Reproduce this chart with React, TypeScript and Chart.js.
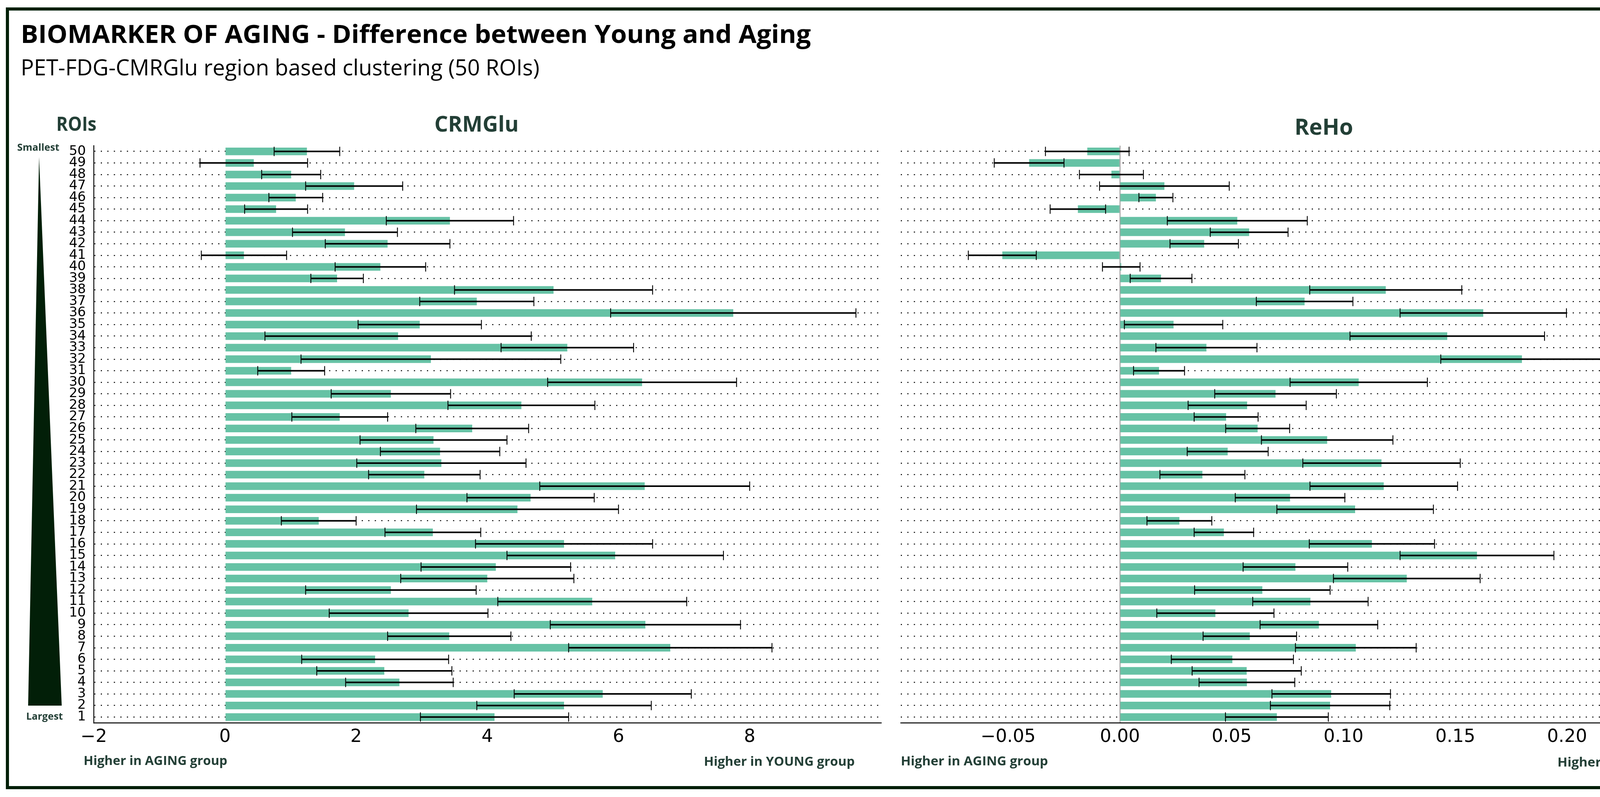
import React, { useEffect, useRef } from 'react';
import { Chart, registerables } from 'chart.js';

Chart.register(...registerables);

// ROI labels, top (smallest) to bottom (largest)
const roiLabels = [
  '50', '49', '48', '47', '46', '45', '44', '43', '42', '41',
  '40', '39', '38', '37', '36', '35', '34', '33', '32', '31',
  '30', '29', '28', '27', '26', '25', '24', '23', '22', '21',
  '20', '19', '18', '17', '16', '15', '14', '13', '12', '11',
  '10', '9', '8', '7', '6', '5', '4', '3', '2', '1',
];

// CRMGlu difference (Young - Aging), same order as roiLabels
const crmgluValues = [
  1.25, 0.44, 1.01, 1.97, 1.08, 0.78, 3.43, 1.83, 2.48, 0.29,
  2.37, 1.71, 5.01, 3.84, 7.75, 2.97, 2.64, 5.22, 3.14, 1.01,
  6.36, 2.53, 4.52, 1.75, 3.77, 3.18, 3.28, 3.30, 3.04, 6.40,
  4.66, 4.46, 1.43, 3.17, 5.17, 5.95, 4.13, 4.00, 2.53, 5.60,
  2.80, 6.41, 3.42, 6.79, 2.29, 2.43, 2.66, 5.76, 5.17, 4.11,
];
const crmgluErrors = [
  0.50, 0.82, 0.45, 0.74, 0.41, 0.48, 0.97, 0.80, 0.95, 0.65,
  0.69, 0.40, 1.51, 0.87, 1.87, 0.94, 2.03, 1.01, 1.98, 0.51,
  1.44, 0.91, 1.12, 0.73, 0.86, 1.12, 0.91, 1.29, 0.85, 1.60,
  0.97, 1.54, 0.57, 0.73, 1.35, 1.65, 1.14, 1.32, 1.30, 1.44,
  1.21, 1.45, 0.94, 1.55, 1.12, 1.03, 0.82, 1.35, 1.33, 1.13,
];

// ReHo difference (Young - Aging), same order as roiLabels
const rehoValues = [
  -0.0146, -0.0406, -0.0038, 0.0199, 0.0161, -0.0188, 0.0525, 0.0578, 0.0377, -0.0526,
  0.0006, 0.0184, 0.1189, 0.0826, 0.1625, 0.0240, 0.1464, 0.0387, 0.1798, 0.0175,
  0.1068, 0.0696, 0.0569, 0.0475, 0.0616, 0.0927, 0.0482, 0.1170, 0.0369, 0.1180,
  0.0761, 0.1052, 0.0266, 0.0465, 0.1127, 0.1597, 0.0785, 0.1283, 0.0637, 0.0852,
  0.0427, 0.0890, 0.0581, 0.1055, 0.0503, 0.0567, 0.0568, 0.0945, 0.0940, 0.0702,
];
const rehoErrors = [
  0.0187, 0.0156, 0.0143, 0.0290, 0.0076, 0.0124, 0.0313, 0.0174, 0.0153, 0.0152,
  0.0084, 0.0138, 0.0340, 0.0216, 0.0372, 0.0220, 0.0435, 0.0226, 0.0363, 0.0114,
  0.0307, 0.0272, 0.0264, 0.0143, 0.0143, 0.0294, 0.0181, 0.0352, 0.0190, 0.0330,
  0.0245, 0.0350, 0.0145, 0.0133, 0.0280, 0.0344, 0.0234, 0.0328, 0.0303, 0.0258,
  0.0262, 0.0263, 0.0209, 0.0270, 0.0273, 0.0244, 0.0214, 0.0265, 0.0267, 0.0230,
];

const crmgluTicks = [-2, 0, 2, 4, 6, 8];
const rehoTicks = [-0.05, 0, 0.05, 0.1, 0.15, 0.2, 0.25];

const BAR_COLOR = '#66c2a5';
const DARK = '#021f08';
const LABEL_COLOR = '#233f36';

const errorBarPlugin = {
  id: 'errorBars',
  afterDatasetsDraw(chart: any) {
    const ds = chart.data.datasets[0];
    const errs: number[] = ds.errors;
    const meta = chart.getDatasetMeta(0);
    const xs = chart.scales.x;
    const ctx = chart.ctx;
    ctx.save();
    ctx.strokeStyle = '#000';
    meta.data.forEach((el: any, i: number) => {
      const v = ds.data[i];
      const e = errs[i];
      const x1 = xs.getPixelForValue(v - e);
      const x2 = xs.getPixelForValue(v + e);
      const y = el.y;
      ctx.lineWidth = 4;
      ctx.beginPath();
      ctx.moveTo(x1, y);
      ctx.lineTo(x2, y);
      ctx.stroke();
      ctx.lineWidth = 2.2;
      ctx.beginPath();
      ctx.moveTo(x1, y - 12);
      ctx.lineTo(x1, y + 12);
      ctx.moveTo(x2, y - 12);
      ctx.lineTo(x2, y + 12);
      ctx.stroke();
    });
    ctx.restore();
  },
};

type PanelOpts = {
  values: number[];
  errors: number[];
  min: number;
  max: number;
  ticks: number[];
  fmt: (v: number) => string;
  yWidth: number;
  padRight: number;
  showY: boolean;
  zeroLine: boolean;
};

function buildConfig(o: PanelOpts): any {
  return {
    type: 'bar',
    data: {
      labels: roiLabels,
      datasets: [
        {
          data: o.values,
          errors: o.errors,
          backgroundColor: BAR_COLOR,
          borderWidth: 0,
          barPercentage: 0.66,
          categoryPercentage: 1.0,
        },
      ],
    },
    options: {
      indexAxis: 'y',
      animation: false,
      responsive: true,
      maintainAspectRatio: false,
      events: [],
      layout: { padding: { top: 13, right: o.padRight, bottom: 0, left: 0 } },
      plugins: { legend: { display: false }, tooltip: { enabled: false }, title: { display: false } },
      scales: {
        x: {
          type: 'linear',
          min: o.min,
          max: o.max,
          z: 1,
          afterBuildTicks: (axis: any) => {
            axis.ticks = o.ticks.map((v) => ({ value: v }));
          },
          afterFit: (scale: any) => {
            scale.height = 89;
            scale.paddingLeft = 0;
            scale.paddingRight = 0;
          },
          ticks: {
            callback: (v: any) => o.fmt(Number(v)),
            font: { family: 'DejaVu Sans', size: 46 },
            color: '#000',
            padding: 9,
            maxRotation: 0,
            minRotation: 0,
            autoSkip: false,
          },
          grid: {
            display: true,
            drawTicks: false,
            drawOnChartArea: true,
            lineWidth: (ctx: any) => (o.zeroLine && ctx.tick && Math.abs(ctx.tick.value) < 1e-9 ? 2.5 : 3),
            color: (ctx: any) => {
              const v = ctx.tick ? ctx.tick.value : NaN;
              if (Math.abs(v - o.min) < 1e-9) return 'rgba(0,0,0,0)';
              if (o.zeroLine && Math.abs(v) < 1e-9) return '#a0a0a0';
              return '#ffffff';
            },
          },
          border: { display: true, color: '#000', width: 2.6 },
        },
        y: {
          type: 'category',
          z: 1,
          afterFit: (scale: any) => {
            scale.width = o.yWidth;
            scale.paddingTop = 0;
            scale.paddingBottom = 0;
          },
          ticks: {
            display: o.showY,
            autoSkip: false,
            font: { family: 'DejaVu Sans', size: 34 },
            color: '#000',
            padding: 20,
          },
          grid: {
            display: true,
            offset: false,
            drawTicks: false,
            color: '#000',
            lineWidth: 2.6,
          },
          border: { display: o.showY, color: '#000', width: 2.3, dash: [3, 13.7] },
        },
      },
    },
    plugins: [errorBarPlugin],
  };
}

function Panel(props: { left: number; top: number; width: number; height: number; opts: PanelOpts }) {
  const ref = useRef<HTMLCanvasElement | null>(null);
  useEffect(() => {
    if (!ref.current) return;
    const chart = new Chart(ref.current, buildConfig(props.opts));
    return () => chart.destroy();
  }, []);
  return (
    <div
      style={{
        position: 'absolute',
        left: props.left,
        top: props.top,
        width: props.width,
        height: props.height,
      }}
    >
      <canvas ref={ref} />
    </div>
  );
}

function T(p: {
  x: number;
  y: number;
  size: number;
  len: number;
  bold?: boolean;
  fill?: string;
  children: string;
}) {
  return (
    <text
      x={p.x}
      y={p.y}
      fontSize={p.size}
      fontFamily="'Open Sans', 'Noto Sans', sans-serif"
      fontWeight={p.bold ? 700 : 400}
      fill={p.fill || '#000'}
      textLength={p.len}
      lengthAdjust="spacingAndGlyphs"
    >
      {p.children}
    </text>
  );
}

const fmtLeft = (v: number) => (v < 0 ? '\u2212' + Math.abs(v) : String(v));
const fmtRight = (v: number) => {
  if (Math.abs(v) < 1e-9) return '0.00';
  return (v < 0 ? '\u2212' : '') + Math.abs(v).toFixed(2);
};

export default function App() {
  return (
    <div
      style={{
        position: 'absolute',
        left: 0,
        top: 0,
        width: 4426,
        height: 2041,
        background: '#ffffff',
        overflow: 'hidden',
      }}
    >
      <Panel
        left={150}
        top={360}
        width={2120}
        height={1580}
        opts={{
          values: crmgluValues,
          errors: crmgluErrors,
          min: -2,
          max: 10,
          ticks: crmgluTicks,
          fmt: fmtLeft,
          yWidth: 90,
          padRight: 15,
          showY: true,
          zeroLine: false,
        }}
      />
      <Panel
        left={2260}
        top={360}
        width={2110}
        height={1580}
        opts={{
          values: rehoValues,
          errors: rehoErrors,
          min: -0.098,
          max: 0.25,
          ticks: rehoTicks,
          fmt: fmtRight,
          yWidth: 46,
          padRight: 72,
          showY: false,
          zeroLine: true,
        }}
      />
      <svg
        width={4426}
        height={2041}
        style={{ position: 'absolute', left: 0, top: 0, pointerEvents: 'none' }}
      >
        <rect x={19} y={23} width={4386} height={1994} fill="none" stroke={DARK} strokeWidth={8} />
        <polygon points="100,402 158,1807 72,1807" fill={DARK} />
        <T x={53} y={110} size={64} len={2023} bold>
          BIOMARKER OF AGING - Difference between Young and Aging
        </T>
        <T x={53} y={193} size={56} len={1328}>
          PET-FDG-CMRGlu region based clustering (50 ROIs)
        </T>
        <T x={144} y={335} size={50} len={103} bold fill={LABEL_COLOR}>
          ROIs
        </T>
        <T x={1112} y={337} size={55} len={216} bold fill={LABEL_COLOR}>
          CRMGlu
        </T>
        <T x={3314} y={345} size={57} len={150} bold fill={LABEL_COLOR}>
          ReHo
        </T>
        <T x={44} y={386} size={25} len={108} bold fill={LABEL_COLOR}>
          Smallest
        </T>
        <T x={67} y={1843} size={25} len={94} bold fill={LABEL_COLOR}>
          Largest
        </T>
        <T x={214} y={1959} size={33} len={368} bold fill={LABEL_COLOR}>
          Higher in AGING group
        </T>
        <T x={1802} y={1961} size={33} len={386} bold fill={LABEL_COLOR}>
          Higher in YOUNG group
        </T>
        <T x={2306} y={1960} size={33} len={377} bold fill={LABEL_COLOR}>
          Higher in AGING group
        </T>
        <T x={3987} y={1963} size={33} len={394} bold fill={LABEL_COLOR}>
          Higher in YOUNG group
        </T>
      </svg>
    </div>
  );
}
